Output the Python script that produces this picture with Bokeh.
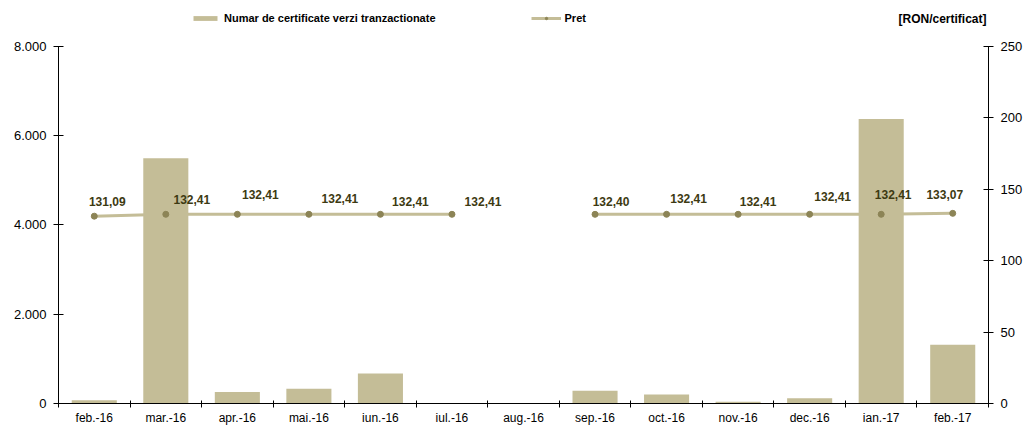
import math
from bokeh.plotting import figure
from bokeh.models import (ColumnDataSource, Range1d, LinearAxis, FixedTicker,
                          Legend, LegendItem, Label)
from bokeh.core.properties import value
from bokeh.embed import file_html
from bokeh.resources import INLINE

months = ["feb.-16", "mar.-16", "apr.-16", "mai.-16", "iun.-16", "iul.-16", "aug.-16",
          "sep.-16", "oct.-16", "nov.-16", "dec.-16", "ian.-17", "feb.-17"]
volume = [70, 5490, 255, 330, 670, 0, 0, 285, 200, 40, 120, 6370, 1315]
price = [131.09, 132.41, 132.41, 132.41, 132.41, 132.41, float("nan"),
         132.40, 132.41, 132.41, 132.41, 132.41, 133.07]
left_ticks = [0, 2000, 4000, 6000, 8000]
right_ticks = [0, 50, 100, 150, 200, 250]
unit_text = "[RON/certificat]"
bar_name = "Numar de certificate verzi tranzactionate"
line_name = "Pret"

# label offsets in pixels (style)
lab_dx = [13, 26, 23, 31, 30, 31, 0, 16, 22, 20, 23, 12, -8]
lab_dy = [15, 15, 20, 16, 13, 13, 0, 13, 16, 13, 18, 20, 19]

BAR = "#c4bd97"
MARK = "#8c8456"
LAB = "#3d3a12"
FONT = "Liberation Sans"

# layout: the frame spans the full height above the x axis; axes are bounded
FRAME_H = 405          # frame height in px
AXIS_H = 359           # px covered by the value axes
LEFT_MAX, RIGHT_MAX = left_ticks[-1], right_ticks[-1]

n = len(months)
xc = [i + 0.5 for i in range(n)]
labels = ["" if math.isnan(v) else f"{v:.2f}".replace(".", ",") for v in price]

src = ColumnDataSource(dict(x=xc, vol=volume, price=price, lab=labels,
                            dx=lab_dx, dy=[-d for d in lab_dy]))

p = figure(width=1030, height=427, output_backend="svg", toolbar_location=None,
           x_range=Range1d(0, n), y_range=Range1d(0, LEFT_MAX * FRAME_H / AXIS_H),
           min_border_left=58, min_border_right=42, min_border_top=0, min_border_bottom=22)
p.extra_y_ranges = {"price": Range1d(0, RIGHT_MAX * FRAME_H / AXIS_H)}
p.outline_line_color = None
p.xgrid.visible = False
p.ygrid.visible = False
p.background_fill_color = "white"

xa = p.xaxis[0]
xa.ticker = FixedTicker(ticks=xc, minor_ticks=list(range(n + 1)))
xa.major_label_overrides = {x: m for x, m in zip(xc, months)}
xa.major_tick_in = 0
xa.major_tick_out = 0
xa.minor_tick_in = 3
xa.minor_tick_out = 4
xa.minor_tick_line_color = "black"
xa.axis_line_color = "black"
xa.major_label_standoff = 3
xa.major_label_text_font = FONT
xa.major_label_text_font_size = "12px"
xa.major_label_text_color = "black"

ya = p.yaxis[0]
ya.ticker = FixedTicker(ticks=left_ticks)
ya.bounds = (0, LEFT_MAX)
ya.major_label_overrides = {t: f"{t:,}".replace(",", ".") for t in left_ticks}
ya.major_tick_in = 5
ya.major_tick_out = 5
ya.minor_tick_in = 0
ya.minor_tick_out = 0
ya.axis_line_color = "black"
ya.major_label_standoff = 7
ya.major_label_text_font = FONT
ya.major_label_text_font_size = "13px"
ya.major_label_text_color = "black"

ra = LinearAxis(y_range_name="price", ticker=FixedTicker(ticks=right_ticks),
                bounds=(0, RIGHT_MAX))
ra.major_tick_in = 5
ra.major_tick_out = 5
ra.minor_tick_in = 0
ra.minor_tick_out = 0
ra.axis_line_color = "black"
ra.major_label_standoff = 7
ra.major_label_text_font = FONT
ra.major_label_text_font_size = "13px"
ra.major_label_text_color = "black"
p.add_layout(ra, "right")

ln = p.line("x", "price", source=src, y_range_name="price", line_color=BAR, line_width=3)
bars = p.vbar(x="x", top="vol", width=0.63, source=src, fill_color=BAR, line_color=None)
pts = p.scatter("x", "price", source=src, y_range_name="price", size=6,
                fill_color=MARK, line_color=MARK)
p.text("x", "price", text="lab", source=src, y_range_name="price",
       x_offset="dx", y_offset="dy", text_align="center", text_baseline="middle",
       text_font=value(FONT), text_font_size="12px", text_font_style="bold",
       text_color=LAB)

legend = Legend(items=[LegendItem(label=bar_name, renderers=[bars]),
                       LegendItem(label=line_name, renderers=[ln, pts])],
                orientation="horizontal", location=(132, 379),
                glyph_width=30, glyph_height=6, label_standoff=4, spacing=95,
                padding=0, margin=0, border_line_color=None, background_fill_alpha=0,
                label_height=12, label_text_font=FONT, label_text_font_size="11px",
                label_text_font_style="bold", label_text_color="black")
p.add_layout(legend, "center")

unit = Label(x=n, y=385, x_units="data", y_units="screen", text=unit_text,
             x_offset=-2, text_align="right", text_baseline="middle", text_font=FONT,
             text_font_size="12px", text_font_style="bold", text_color="black")
p.add_layout(unit)

open("out.html", "w").write(file_html(p, INLINE))
